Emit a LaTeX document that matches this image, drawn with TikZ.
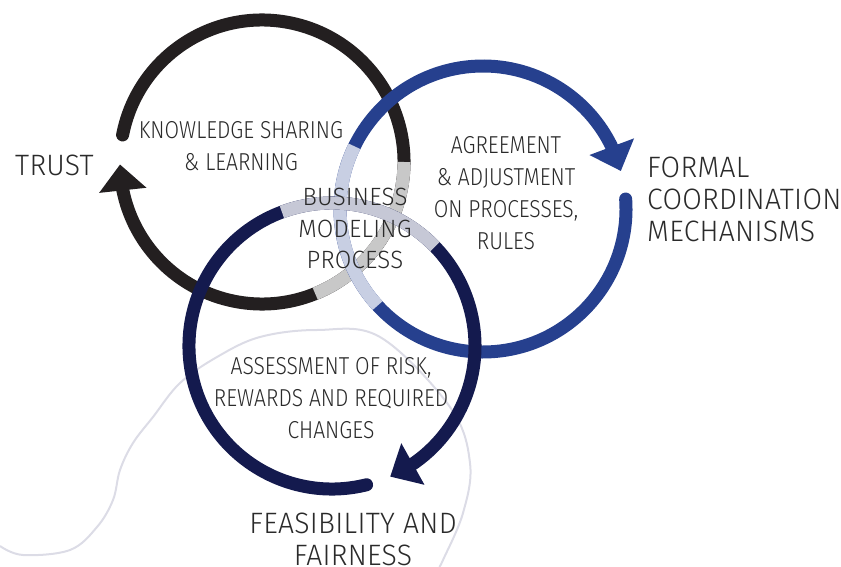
\documentclass[tikz,border=0pt]{standalone}
\usepackage{fontspec}
\setmainfont{Fira Sans Light}
\newfontfamily\widefont{Fira Sans Light}[LetterSpace=1,FakeStretch=0.96]
\newfontfamily\narrowfont{Fira Sans Light}[FakeStretch=0.86]
\usetikzlibrary{arrows.meta}
\usetikzlibrary{bending}

\definecolor{ringblack}{HTML}{231F20}
\definecolor{ringgray}{HTML}{C8C8C8}
\definecolor{ringblue}{HTML}{26408E}
\definecolor{ringbluelight}{HTML}{C8CFE3}
\definecolor{ringnavy}{HTML}{141A4E}
\definecolor{ringnavylight}{HTML}{C6C8D6}
\definecolor{swirl}{HTML}{DCDCE6}
\definecolor{labeltext}{HTML}{2A2A2A}

\tikzset{
  ring/.style={line width=13pt, line cap=round, -{Triangle[width=46pt,length=26pt]}},
  fade/.style={line width=13pt, line cap=butt},
  inner label/.style={font=\narrowfont\fontsize{24.5}{32}\selectfont, text=labeltext, align=center, inner sep=0pt, anchor=north},
  core label/.style={font=\widefont\fontsize{25}{31.5}\selectfont, text=labeltext, align=center, inner sep=0pt, anchor=north},
  outer label/.style={font=\widefont\fontsize{29.5}{32}\selectfont, text=labeltext, inner sep=0pt, anchor=north},
}

\begin{document}
\begin{tikzpicture}[x=1pt,y=-1pt]
    \useasboundingbox (0,0) rectangle (841,567);

    % thin background swirl
    \draw [swirl, line width=2pt] plot [smooth, tension=0.6] coordinates {(0,546) (23,555) (70,550) (97,527) (113,500) (120,470) (133,443) (153,417) (180,383) (217,357) (260,337) (317,330) (380,337) (450,407) (470,463) (463,513) (443,560) (439,567)};

    % the three rings, each with its faded middle part
    \draw [ring, ringblack] (262,162) ++(-169:142) arc [start angle=-169, end angle=179, radius=142];
    \draw [fade, ringgray] (262,162) ++(0:142) arc [start angle=0, end angle=68, radius=142];

    \draw [ring, ringblue] (483,209) ++(-4:143) arc [start angle=-4, end angle=344.6, radius=143];
    \draw [fade, ringbluelight] (483,209) ++(137.5:143) arc [start angle=137.5, end angle=206, radius=143];

    \draw [ring, ringnavy] (332,346) ++(76:143) arc [start angle=76, end angle=426, radius=143];
    \draw [fade, ringnavylight] (332,346) ++(249.5:143) arc [start angle=249.5, end angle=316, radius=143];

    % labels
    \node [outer label, anchor=north west] (trust) at (15,155) {TRUST};
    \node [inner label] (sharing) at (241,121) {KNOWLEDGE SHARING\\\& LEARNING};
    \node [core label] (business) at (355,188) {BUSINESS\\MODELING\\PROCESS};
    \node [inner label] (agreement) at (506,136) {AGREEMENT\\\& ADJUSTMENT\\ON PROCESSES,\\RULES};
    \node [outer label, anchor=north west, align=left] (formal) at (647,157) {FORMAL\\COORDINATION\\MECHANISMS};
    \node [inner label] (assessment) at (331,357) {ASSESSMENT OF RISK,\\REWARDS AND REQUIRED\\CHANGES};
    \node [outer label, align=center] (feasibility) at (353,513) {FEASIBILITY AND\\FAIRNESS};

\end{tikzpicture}
\end{document}
